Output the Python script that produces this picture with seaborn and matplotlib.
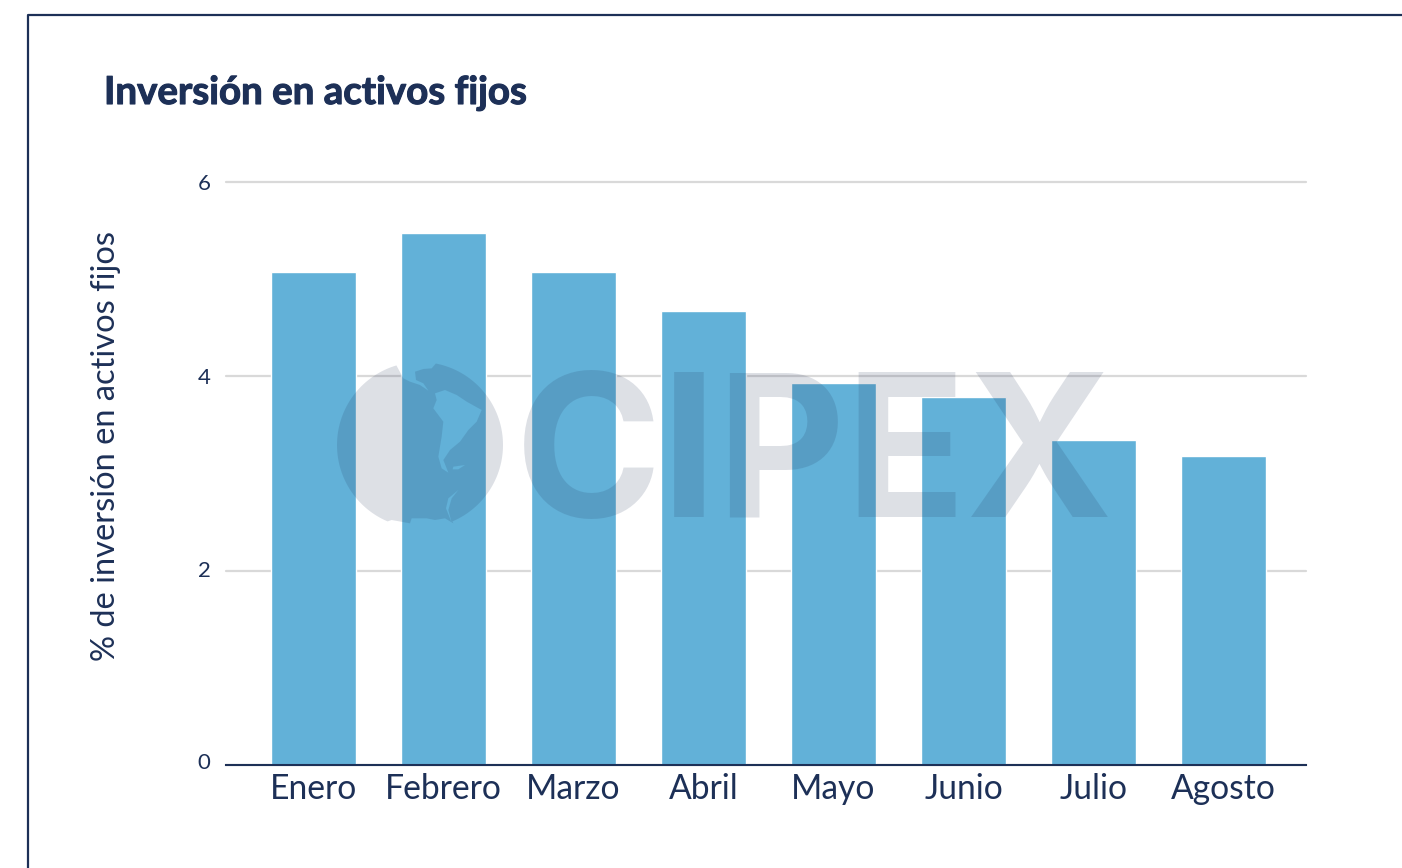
import matplotlib
matplotlib.use("Agg")
import matplotlib.pyplot as plt
import matplotlib.patheffects as pe
import seaborn as sns
import pandas as pd
import numpy as np
from matplotlib.path import Path
from matplotlib.patches import PathPatch
from matplotlib.lines import Line2D
from matplotlib.transforms import Affine2D

months = ["Enero", "Febrero", "Marzo", "Abril", "Mayo", "Junio", "Julio", "Agosto"]
values = [5.07, 5.47, 5.07, 4.67, 3.93, 3.79, 3.34, 3.18]
y_ticks = [0, 2, 4, 6]

NAVY = "#1d3057"
BAR = "#62b1d8"
W, H = 1402, 868

sns.set_theme(style="white")
plt.rcParams["font.family"] = ["Lato", "DejaVu Sans"]

fig = plt.figure(figsize=(W / 100, H / 100), dpi=100, facecolor="white")
ax = fig.add_axes([226 / W, 1 - 765 / H, 1080 / W, 583 / H])

df = pd.DataFrame({"mes": months, "valor": values})
sns.barplot(data=df, x="mes", y="valor", order=months, color=BAR, saturation=1,
            width=0.648, ax=ax, zorder=3)

ax.set_xlim(-0.673, 7.635)
ax.set_ylim(0, 6)
ax.set_yticks(y_ticks)
ax.set_axisbelow(True)
ax.grid(axis="y", color="#d9d9d9", lw=1.6, clip_on=False)
ax.grid(axis="x", visible=False)
for s in ["top", "right", "left"]:
    ax.spines[s].set_visible(False)
ax.spines["bottom"].set_color(NAVY)
ax.spines["bottom"].set_linewidth(1.5)
ax.spines["bottom"].set_zorder(5)
ax.tick_params(axis="x", length=0, pad=6, labelsize=24.2, labelcolor=NAVY)
ax.tick_params(axis="y", length=0, pad=11, labelsize=16, labelcolor=NAVY)
ax.set_xlabel("")
ax.set_ylabel("")

# the reference's lower tick labels sit a little above their gridlines
for lab, dy in zip(ax.get_yticklabels(), [4, 2, 0, 0]):
    lab.set_transform(lab.get_transform() + Affine2D().translate(0, dy))

fig.text(106 / W, 1 - 446 / H, "% de inversión en activos fijos", rotation=90,
         ha="center", va="center", fontsize=23.5, color=NAVY)
fig.text(104 / W, 1 - 104 / H, "Inversión en activos fijos", ha="left",
         va="baseline", fontsize=27.7, fontweight="bold", color=NAVY,
         path_effects=[pe.withStroke(linewidth=0.8, foreground=NAVY)])

# frame of the slide
fig.add_artist(Line2D([28 / W, 28 / W, 1], [0, 1 - 15 / H, 1 - 15 / H],
                      transform=fig.transFigure, color=NAVY, lw=1.6, zorder=6))

# watermark (logo): globe with continents cut out, and the word
px = Affine2D().scale(1, -1).translate(0, H)  # reference pixels -> display


def zoomed(points):
    return [(x / 3 + 320, y / 3 + 350) for x, y in points]


def arc(a0, a1):
    return [(420 + 83 * np.cos(t), 445 - 83 * np.sin(t))
            for t in np.deg2rad(np.linspace(a0, a1, 80))]


globe = (arc(-67, 79)
         + zoomed([(335, 55), (310, 57), (285, 65), (288, 90), (310, 100), (325, 122),
                   (300, 105), (270, 95), (250, 85)])
         + arc(106.5, 247)
         + zoomed([(215, 510), (270, 520), (275, 505), (320, 505), (345, 510),
                   (375, 505), (400, 520)]))
south_america = zoomed([(345, 130), (375, 120), (410, 135), (440, 155), (485, 180),
                        (470, 215), (445, 240), (420, 275), (390, 300), (370, 330),
                        (385, 368), (365, 355), (355, 320), (365, 260), (370, 215),
                        (340, 175), (350, 150)])
falkland = zoomed([(400, 350), (435, 345), (415, 358), (398, 358)])
sliver = zoomed([(415, 420), (395, 445), (385, 480), (395, 518), (378, 475), (385, 445)])


def ring(points):
    pts = list(points) + [points[0]]
    codes = [Path.MOVETO] + [Path.LINETO] * (len(points) - 1) + [Path.CLOSEPOLY]
    return pts, codes


verts, codes = [], []
for shape in (globe, south_america, falkland, sliver):
    p, c = ring(shape)
    verts += p
    codes += c
fig.add_artist(PathPatch(Path(verts, codes), facecolor=NAVY, edgecolor="none",
                         alpha=0.15, transform=px, zorder=4))
fig.text(515 / W, 1 - 517 / H, "CIPEX", ha="left", va="baseline", fontsize=143,
         family="Inter", fontweight="bold", color=NAVY, alpha=0.15, zorder=4)

fig.savefig("out.png", dpi=100, facecolor="white")
